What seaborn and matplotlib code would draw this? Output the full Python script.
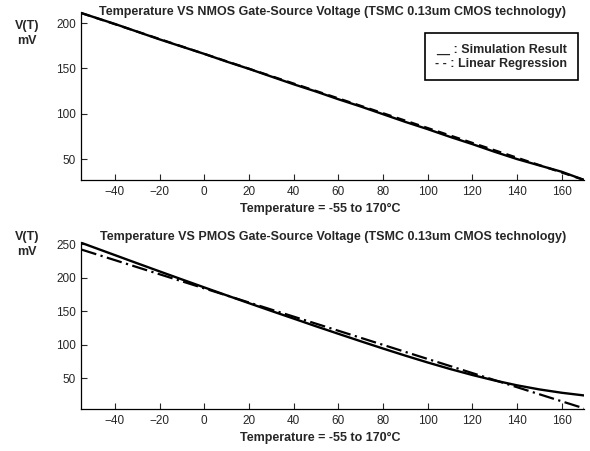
import matplotlib
matplotlib.use("Agg")
import matplotlib.pyplot as plt
import seaborn as sns

# temperatures (deg C)
temps = [-55, -40, -30, -20, -10, 0, 10, 20, 30, 40, 50, 60, 70, 80, 90, 100, 110, 120, 130, 140, 150, 160, 170]

# NMOS gate-source voltage, simulation (mV)
nmos_sim = [211, 199, 190.5, 182, 174, 166, 157.5, 149.5, 141, 132.5, 124.5, 116, 108, 99.5, 91, 83, 74.5, 66.5, 58, 50, 43, 36, 27]
# linear regression end points
fit_temps = [-55, 170]
nmos_fit = [211, 27]

# PMOS gate-source voltage, simulation (mV)
pmos_sim = [252, 233.7, 221.5, 209.4, 197.4, 185.5, 173.7, 162, 150.4, 139, 127.5, 116.3, 105.2, 94.3, 83.7,
            73.5, 63.8, 54.8, 46.6, 39.4, 33.3, 28.3, 24.3]
pmos_fit = [242, 5]

xticks = [-40, -20, 0, 20, 40, 60, 80, 100, 120, 140, 160]

sns.set_style("ticks")
plt.rcParams["font.family"] = ["Liberation Sans", "DejaVu Sans"]

fig = plt.figure(figsize=(5.9, 4.51), dpi=100)
ax1 = fig.add_axes([0.138, 0.601, 0.852, 0.372])
ax2 = fig.add_axes([0.138, 0.093, 0.852, 0.370])

panels = [
    (ax1, nmos_sim, nmos_fit, (27, 212), [50, 100, 150, 200], "NMOS", (4, 2.5), 0.982),
    (ax2, pmos_sim, pmos_fit, (4, 253), [50, 100, 150, 200, 250], "PMOS", (7, 2, 1, 2), 1.012),
]

for ax, sim, fit, ylim, yticks, dev, dash, ty in panels:
    sns.lineplot(x=temps, y=sim, ax=ax, color="black", linewidth=1.7)
    sns.lineplot(x=fit_temps, y=fit, ax=ax, color="black", linewidth=1.6,
                 linestyle=(0, dash))
    ax.set_xlim(-55, 170)
    ax.set_ylim(*ylim)
    ax.set_xticks(xticks)
    ax.set_yticks(yticks)
    ax.tick_params(direction="in", length=4.5, width=0.8, labelsize=8.5, pad=4)
    sns.despine(ax=ax)
    for s in ["left", "bottom"]:
        ax.spines[s].set_linewidth(0.9)
        ax.spines[s].set_color("black")
    ax.set_xlabel("Temperature = -55 to 170\u00b0C", fontsize=9, fontweight="bold")
    ax.xaxis.set_label_coords(0.475, -0.14)
    ax.text(0.5, ty, "Temperature VS %s Gate-Source Voltage (TSMC 0.13um CMOS technology)" % dev,
            transform=ax.transAxes, ha="center", va="baseline", fontsize=9, fontweight="bold")

fig.text(0.046, 0.955, "V(T)\nmV", ha="center", va="top", fontsize=9, fontweight="bold", linespacing=1.3)
fig.text(0.046, 0.487, "V(T)\nmV", ha="center", va="top", fontsize=9, fontweight="bold", linespacing=1.3)

ax1.text(0.835, 0.735, "__ : Simulation Result\n- - : Linear Regression", transform=ax1.transAxes,
         ha="center", va="center", fontsize=9, fontweight="bold", linespacing=1.2,
         bbox=dict(boxstyle="square,pad=0.85", facecolor="white", edgecolor="black", linewidth=1.2))

fig.savefig("out.png", dpi=100)
